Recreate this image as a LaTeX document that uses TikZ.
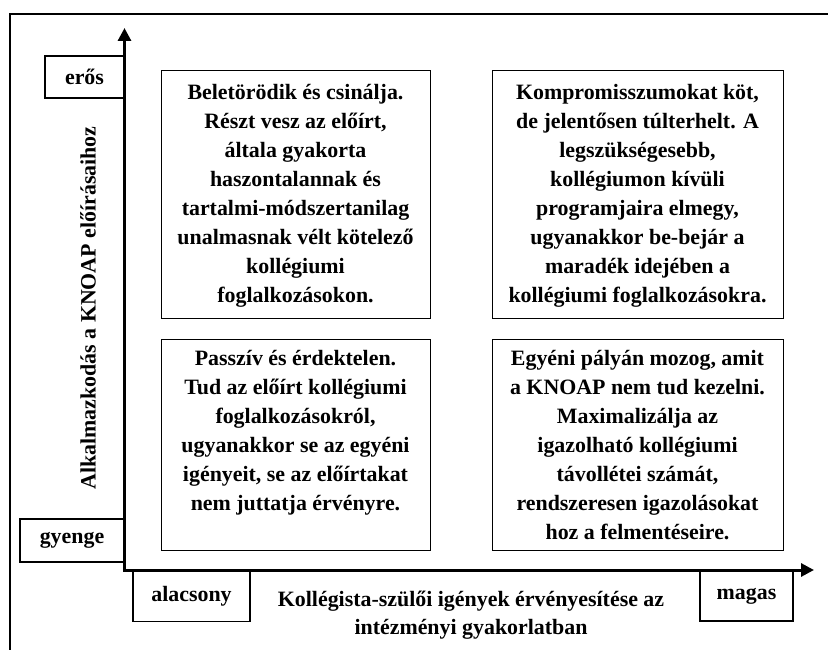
\documentclass[tikz,border=0pt]{standalone}
\usepackage{fontspec}
\setmainfont{Liberation Serif}
\usetikzlibrary{arrows.meta}
\begin{document}
\begin{tikzpicture}[x=1pt,y=-1pt,
  boxline/.style={draw=black,line width=1.4pt},
  qbox/.style={boxline,anchor=north west,inner sep=0pt},
  qtext/.style={anchor=north,inner sep=0pt,align=center,font=\fontsize{21.9}{29}\selectfont\bfseries},
  axlabel/.style={boxline,inner sep=0pt,font=\fontsize{21.9}{26}\selectfont\bfseries},
  axtitle/.style={inner sep=0pt,align=center,font=\fontsize{21.9}{28}\selectfont\bfseries},
  axisline/.style={line width=3pt,{Triangle[length=13pt,width=13pt]}-{Triangle[length=13pt,width=13pt]}}
]
\useasboundingbox (0,0) rectangle (828,650);
\fill[white] (0,0) rectangle (828,650);
% outer frame (cropped)
\draw[line width=1.4pt] (828,14) -- (10,14) -- (10,650);

% quadrant boxes
\node[qbox,minimum width=269pt,minimum height=248pt] (tl) at (161,70) {};
\node[qbox,minimum width=291pt,minimum height=248pt] (tr) at (492,70) {};
\node[qbox,minimum width=269pt,minimum height=211pt] (bl) at (161,339) {};
\node[qbox,minimum width=291pt,minimum height=211pt] (br) at (492,339) {};

\node[qtext] (tlt) at (295.5,84) {Beletörödik és csinálja.\\Részt vesz az előírt,\\általa gyakorta\\haszontalannak és\\tartalmi-módszertanilag\\unalmasnak vélt kötelező\\kollégiumi\\foglalkozásokon.};
\node[qtext] (trt) at (637.5,84) {Kompromisszumokat köt,\\de jelentősen túlterhelt. A\\legszükségesebb,\\kollégiumon kívüli\\programjaira elmegy,\\ugyanakkor be-bejár a\\maradék idejében a\\kollégiumi foglalkozásokra.};
\node[qtext] (blt) at (295.5,350) {Passzív és érdektelen.\\Tud az előírt kollégiumi\\foglalkozásokról,\\ugyanakkor se az egyéni\\igényeit, se az előírtakat\\nem juttatja érvényre.};
\node[qtext] (brt) at (637.5,350) {Egyéni pályán mozog, amit\\a KNOAP nem tud kezelni.\\Maximalizálja az\\igazolható kollégiumi\\távollétei számát,\\rendszeresen igazolásokat\\hoz a felmentéseire.};

% axis end labels
\node[axlabel,minimum width=79pt,minimum height=42pt] (eros) at (84.5,77) {erős};
\node[axlabel,minimum width=104pt,minimum height=43pt] (gyenge) at (72,540.5) {gyenge};
\node[axlabel,minimum width=117pt,minimum height=51pt] (alacsony) at (191.5,596) {alacsony};
\node[axlabel,minimum width=93pt,minimum height=50pt] (magas) at (746.5,596) {magas};

% axes
\coordinate (O) at (124.5,570);
\coordinate (ytip) at (124.5,28);
\coordinate (xtip) at (814,570);
\draw[axisline] (ytip) -- (O) -- (xtip);

% axis titles
\node[axtitle,rotate=90] (ytitle) at (88,308) {Alkalmazkodás a KNOAP előírásaihoz};
\node[axtitle] (xtitle) at (471,615) {Kollégista-szülői igények érvényesítése az\\intézményi gyakorlatban};
\end{tikzpicture}
\end{document}
